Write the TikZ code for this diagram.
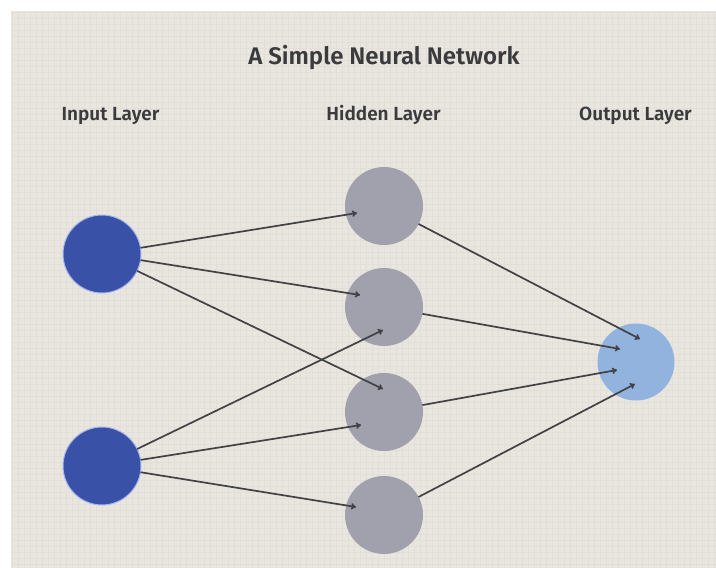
\documentclass[tikz,border=0pt]{standalone}
\usepackage{fontspec}
\setmainfont{Fira Sans}[BoldFont={Fira Sans SemiBold}]
\usetikzlibrary{arrows.meta}
\definecolor{bgbeige}{HTML}{E9E6E0}
\definecolor{gridc}{HTML}{E3DFD8}
\definecolor{inblue}{HTML}{3A51A8}
\definecolor{inrim}{HTML}{A9B8EC}
\definecolor{hidgray}{HTML}{A1A1AE}
\definecolor{outblue}{HTML}{93B3DF}
\definecolor{linec}{HTML}{424245}
\definecolor{textc}{HTML}{3B3B3D}
\tikzset{
  neuron/.style={circle, minimum size=78pt, inner sep=0pt, outer sep=0pt},
  inneuron/.style={neuron, fill=inblue, draw=inrim, line width=1pt},
  hidneuron/.style={neuron, fill=hidgray},
  outneuron/.style={neuron, fill=outblue, minimum size=77pt},
  conn/.style={draw=linec, line width=1.7pt, -{To[length=5pt,width=6.5pt]}},
  layerlabel/.style={font=\fontsize{19}{22}\selectfont\bfseries, text=textc},
  titlelabel/.style={font=\fontsize{24}{28}\selectfont\bfseries, text=textc}
}
\begin{document}
\begin{tikzpicture}[x=1pt,y=-1pt]
\useasboundingbox (0,0) rectangle (716,568);
\fill[white] (0,0) rectangle (716,568);
\fill[bgbeige] (11,11) rectangle (716,568);
\draw[gridc, line width=0.4pt, step=6pt] (11,11) grid (716,568);

\node[titlelabel, anchor=base] (title) at (384,64.3) {A Simple Neural Network};
\node[layerlabel, anchor=base] (lin) at (110.5,120) {Input Layer};
\node[layerlabel, anchor=base] (lhid) at (383.5,120) {Hidden Layer};
\node[layerlabel, anchor=base] (lout) at (635.5,120) {Output Layer};

\node[inneuron] (i1) at (102,254) {};
\node[inneuron] (i2) at (102,466) {};
\node[hidneuron] (h1) at (384,206) {};
\node[hidneuron] (h2) at (384,307) {};
\node[hidneuron] (h3) at (384,412) {};
\node[hidneuron] (h4) at (384,515) {};
\node[outneuron] (o) at (636,362) {};

\coordinate (e11) at ([shift={(-27,7)}]h1.center);
\coordinate (e12) at ([shift={(-24,-12)}]h2.center);
\coordinate (e13) at ([shift={(-1,-23)}]h3.center);
\coordinate (e22) at ([shift={(-1,23)}]h2.center);
\coordinate (e23) at ([shift={(-23,13)}]h3.center);
\coordinate (e24) at ([shift={(-28,-8)}]h4.center);
\coordinate (eo1) at ([shift={(4,-23)}]o.center);
\coordinate (eo2) at ([shift={(-16,-13)}]o.center);
\coordinate (eo3) at ([shift={(-19,8)}]o.center);
\coordinate (eo4) at ([shift={(-1,22)}]o.center);

\draw[conn] (i1) -- (e11);
\draw[conn] (i1) -- (e12);
\draw[conn] (i1) -- (e13);
\draw[conn] (i2) -- (e22);
\draw[conn] (i2) -- (e23);
\draw[conn] (i2) -- (e24);
\draw[conn] (h1) -- (eo1);
\draw[conn] (h2) -- (eo2);
\draw[conn] (h3) -- (eo3);
\draw[conn] (h4) -- (eo4);
\end{tikzpicture}
\end{document}
